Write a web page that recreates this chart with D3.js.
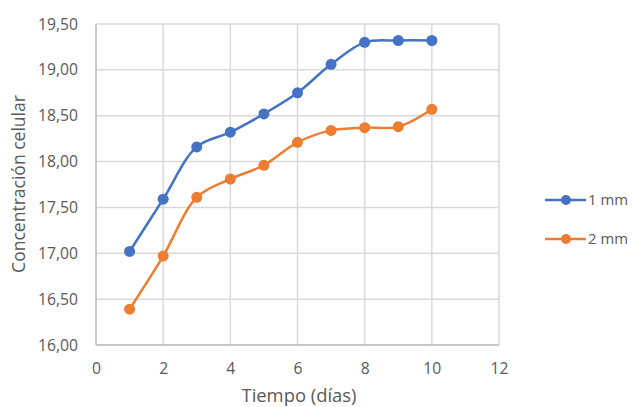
<!DOCTYPE html>
<html>
<head>
<meta charset="utf-8">
<script src="https://cdn.jsdelivr.net/npm/d3@7"></script>
<style>
  html, body { margin: 0; padding: 0; background: #fff; }
  svg { display: block; }
  text { font-family: "Open Sans", "Liberation Sans", sans-serif; fill: #595959; }
</style>
</head>
<body>
<svg id="chart" width="632" height="407"></svg>
<script>
const days = [1, 2, 3, 4, 5, 6, 7, 8, 9, 10];
const series1mm = [17.02, 17.59, 18.16, 18.32, 18.52, 18.75, 19.06, 19.30, 19.32, 19.32];
const series2mm = [16.39, 16.97, 17.61, 17.81, 17.96, 18.21, 18.34, 18.37, 18.38, 18.57];
const seriesNames = ["1 mm", "2 mm"];
const seriesColors = ["#4472C4", "#ED7D31"];
const xTicks = [0, 2, 4, 6, 8, 10, 12];
const yTicks = [16.0, 16.5, 17.0, 17.5, 18.0, 18.5, 19.0, 19.5];
const xTitle = "Tiempo (días)";
const yTitle = "Concentración celular";

(function () {
const svg = d3.select("#chart");
const pLeft = 96, pRight = 499, pTop = 24, pBottom = 345;

const x = d3.scaleLinear().domain([0, 12]).range([pLeft, pRight]);
const y = d3.scaleLinear().domain([16, 19.5]).range([pBottom, pTop]);

const fmt = v => v.toFixed(2).replace(".", ",");

// font size that makes a given string span a target width
function fitSize(str, target) {
  const t = svg.append("text").style("font-size", "20px").text(str);
  const w = t.node().getComputedTextLength();
  t.remove();
  return 20 * target / w;
}
const tickFs = fitSize("19,50", 40);
const xTitleFs = fitSize(xTitle, 115);
const yTitleFs = fitSize(yTitle, 178);
const legFs = fitSize("1 mm", 40);

// gridlines
svg.append("g").selectAll("line").data(yTicks).join("line")
  .attr("x1", pLeft).attr("x2", pRight)
  .attr("y1", d => y(d)).attr("y2", d => y(d))
  .attr("stroke", "#d9d9d9").attr("stroke-width", 1.5);
svg.append("g").selectAll("line").data(xTicks).join("line")
  .attr("x1", d => x(d)).attr("x2", d => x(d))
  .attr("y1", pTop).attr("y2", pBottom)
  .attr("stroke", "#d9d9d9").attr("stroke-width", 1.5);

// axes lines
svg.append("line").attr("x1", pLeft).attr("x2", pRight).attr("y1", pBottom).attr("y2", pBottom)
  .attr("stroke", "#bfbfbf").attr("stroke-width", 1.5);
svg.append("line").attr("x1", pLeft).attr("x2", pLeft).attr("y1", pTop).attr("y2", pBottom)
  .attr("stroke", "#bfbfbf").attr("stroke-width", 1.5);

// tick labels via d3 axes
const yAxis = d3.axisLeft(y).tickValues(yTicks).tickFormat(fmt).tickSize(0).tickPadding(18);
const gy = svg.append("g").attr("transform", `translate(${pLeft},0)`).call(yAxis);
gy.select(".domain").remove();
gy.selectAll("text").style("font-size", tickFs + "px").attr("fill", "#595959")
  .style("font-family", "'Open Sans', sans-serif");

const xAxis = d3.axisBottom(x).tickValues(xTicks).tickFormat(d3.format("d")).tickSize(0).tickPadding(18);
const gx = svg.append("g").attr("transform", `translate(0,${pBottom})`).call(xAxis);
gx.select(".domain").remove();
gx.selectAll("text").style("font-size", tickFs + "px").attr("fill", "#595959")
  .style("font-family", "'Open Sans', sans-serif")
  .attr("dy", null).attr("y", 29);

// axis titles
svg.append("text").attr("x", 299).attr("y", 402).attr("text-anchor", "middle")
  .style("font-size", xTitleFs + "px").text(xTitle);
svg.append("text").attr("transform", "translate(25,184) rotate(-90)").attr("text-anchor", "middle")
  .style("font-size", yTitleFs + "px").text(yTitle);

// series
const allSeries = [series1mm, series2mm];
const line = d3.line().x((d, i) => x(days[i])).y(d => y(d)).curve(d3.curveCatmullRom.alpha(0.5));
allSeries.forEach((vals, si) => {
  svg.append("path").datum(vals).attr("d", line)
    .attr("fill", "none").attr("stroke", seriesColors[si]).attr("stroke-width", 2.5);
  svg.append("g").selectAll("circle").data(vals).join("circle")
    .attr("cx", (d, i) => x(days[i])).attr("cy", d => y(d)).attr("r", 5.5)
    .attr("fill", seriesColors[si]);
});

// legend
const legendY = [200, 239];
seriesNames.forEach((name, si) => {
  const g = svg.append("g");
  g.append("line").attr("x1", 545).attr("x2", 586).attr("y1", legendY[si]).attr("y2", legendY[si])
    .attr("stroke", seriesColors[si]).attr("stroke-width", 2.5);
  g.append("circle").attr("cx", 566).attr("cy", legendY[si]).attr("r", 5).attr("fill", seriesColors[si]);
  g.append("text").attr("x", 588).attr("y", legendY[si]).attr("dy", "0.35em")
    .style("font-size", legFs + "px").text(name);
});
})();
</script>
</body>
</html>
